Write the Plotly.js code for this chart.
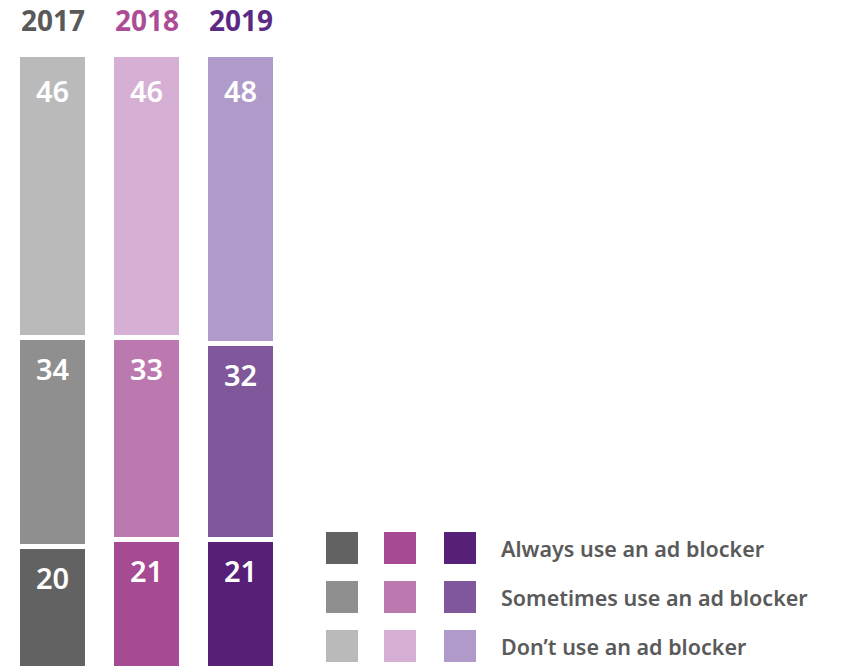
<!DOCTYPE html>
<html>
<head>
<meta charset="utf-8">
<script src="https://cdn.plot.ly/plotly-3.0.1.min.js"></script>
<style>html,body{margin:0;padding:0;background:#fff;}#chart{width:850px;height:666px;}</style>
</head>
<body>
<div id="chart"></div>
<script>
var years = ['2017', '2018', '2019'];
var seriesNames = ['Always use an ad blocker', 'Sometimes use an ad blocker', 'Don\u2019t use an ad blocker'];
var always = [20, 21, 21];
var sometimes = [34, 33, 32];
var dont = [46, 46, 48];
var yearColors = ['#595959', '#ad4c96', '#5a2a85'];
var alwaysColors = ['#626262', '#a64a93', '#561f78'];
var sometimesColors = ['#8f8f8f', '#bb79b0', '#7f579a'];
var dontColors = ['#bababa', '#d6b0d4', '#b09ac9'];

var seriesValues = [always, sometimes, dont];
var seriesColors = [alwaysColors, sometimesColors, dontColors];

var FONT = '"Noto Sans", Lato, sans-serif';
var Y_RANGE = [0.49, 99.59];

var traces = seriesValues.map(function (vals, i) {
  return {
    type: 'bar',
    name: seriesNames[i],
    x: years,
    y: vals,
    width: 0.735,
    marker: {color: seriesColors[i], line: {color: '#ffffff', width: 5}},
    hoverinfo: 'x+y+name',
    showlegend: false
  };
});

var annotations = [];
years.forEach(function (yr, j) {
  var cum = 0;
  seriesValues.forEach(function (vals, i) {
    cum += vals[j];
    var top = Math.min(cum, Y_RANGE[1] - 0.4);
    annotations.push({
      x: j, y: top, xref: 'x', yref: 'y',
      text: String(vals[j]),
      showarrow: false, yanchor: 'middle', yshift: -31,
      font: {family: FONT, size: 29, color: '#ffffff', weight: 600}
    });
  });
  annotations.push({
    x: j, y: 1, xref: 'x', yref: 'paper',
    text: yr,
    showarrow: false, yanchor: 'middle', yshift: 37,
    font: {family: FONT, size: 28, color: yearColors[j], weight: 700}
  });
});

// legend grid: three colour squares per row plus the label
var shapes = [];
var rowTop = [532, 581, 630];
var colLeft = [326, 384, 444];
var plotTop = 57, plotH = 609;
seriesNames.forEach(function (name, r) {
  for (var c = 0; c < 3; c++) {
    shapes.push({
      type: 'rect', xref: 'paper', yref: 'paper',
      x0: colLeft[c] / 850, x1: (colLeft[c] + 32) / 850,
      y0: 1 - (rowTop[r] + 32 - plotTop) / plotH, y1: 1 - (rowTop[r] - plotTop) / plotH,
      fillcolor: seriesColors[r][c], line: {width: 0}
    });
  }
  annotations.push({
    x: 499 / 850, y: 1 - (rowTop[r] + 16 - plotTop) / plotH, xref: 'paper', yref: 'paper',
    xanchor: 'left', yanchor: 'middle', showarrow: false,
    text: name,
    font: {family: FONT, size: 21.5, color: '#5a5a5a', weight: 600}
  });
});

var layout = {
  width: 850, height: 666,
  margin: {l: 0, r: 0, t: plotTop, b: 0, pad: 0},
  barmode: 'stack',
  paper_bgcolor: '#ffffff', plot_bgcolor: '#ffffff',
  xaxis: {type: 'category', range: [-0.5585, 8.484], showticklabels: false, showgrid: false, zeroline: false, showline: false, ticks: ''},
  yaxis: {range: Y_RANGE, showticklabels: false, showgrid: false, zeroline: false, showline: false, ticks: ''},
  annotations: annotations,
  shapes: shapes,
  showlegend: false
};

Plotly.newPlot('chart', traces, layout, {displayModeBar: false, staticPlot: true});
</script>
</body>
</html>
